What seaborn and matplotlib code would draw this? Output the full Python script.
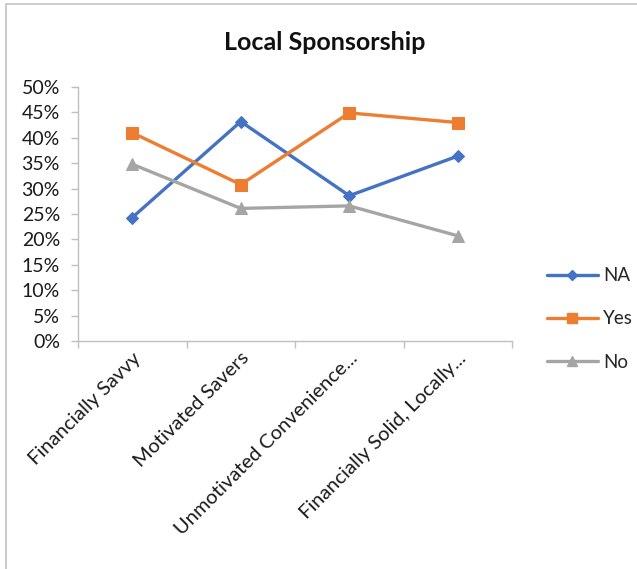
import matplotlib
matplotlib.use("Agg")
import matplotlib.pyplot as plt
import matplotlib.ticker as mticker
from matplotlib.lines import Line2D
import numpy as np
import pandas as pd
import seaborn as sns

categories = ["Financially Savvy", "Motivated Savers",
              "Unmotivated Convenience...", "Financially Solid, Locally..."]
series_names = ["NA", "Yes", "No"]
na_values = [0.243, 0.432, 0.286, 0.364]
yes_values = [0.410, 0.308, 0.449, 0.430]
no_values = [0.348, 0.261, 0.266, 0.207]
y_ticks = [0.0, 0.05, 0.10, 0.15, 0.20, 0.25, 0.30, 0.35, 0.40, 0.45, 0.50]

colors = {"NA": "#4472C4", "Yes": "#ED7D31", "No": "#A5A5A5"}
markers = {"NA": "D", "Yes": "s", "No": "^"}
marker_sizes = {"NA": 6.5, "Yes": 8, "No": 8.5}

rows = []
for name, vals in zip(series_names, [na_values, yes_values, no_values]):
    for i, v in enumerate(vals):
        rows.append({"pos": i, "value": v, "series": name})
df = pd.DataFrame(rows)

sns.set_theme(style="white")
plt.rcParams["font.family"] = ["Lato", "DejaVu Sans"]

W, H = 637, 569
fig = plt.figure(figsize=(W / 100, H / 100), dpi=100)
ax = fig.add_axes([78 / W, 1 - 341 / H, (512 - 78) / W, (341 - 87) / H])

for name in series_names:
    sub = df[df["series"] == name]
    sns.lineplot(data=sub, x="pos", y="value", ax=ax, color=colors[name],
                 marker=markers[name], markersize=marker_sizes[name],
                 markeredgecolor=colors[name], linewidth=2.4, legend=False)

ax.set_xlim(-0.5, len(categories) - 0.5)
ax.set_ylim(0, 0.5)
ax.set_xlabel("")
ax.set_ylabel("")

ax.set_yticks(y_ticks)
ax.yaxis.set_major_formatter(mticker.FuncFormatter(lambda v, p: f"{v * 100:.0f}%"))
ax.set_xticks(range(len(categories)))
ax.set_xticklabels(categories, rotation=45, ha="right", va="top", rotation_mode="anchor")
ax.set_xticks(np.arange(-0.5, len(categories), 1.0), minor=True)
ax.tick_params(axis="x", which="major", length=0, pad=6, labelsize=14.5, labelcolor="#1a1a1a")
ax.tick_params(axis="x", which="minor", length=5, width=1, color="#bfbfbf", direction="out", bottom=True)
ax.tick_params(axis="y", which="major", length=5, width=1, color="#bfbfbf", direction="out",
               left=True, pad=8, labelsize=14, labelcolor="#1a1a1a")

for side in ["top", "right"]:
    ax.spines[side].set_visible(False)
for side in ["left", "bottom"]:
    ax.spines[side].set_color("#bfbfbf")
    ax.spines[side].set_linewidth(1)
ax.grid(False)

fig.text(325 / W, 1 - 42 / H, "Local Sponsorship", ha="center", va="center",
         fontsize=18, fontweight="bold", color="#111111")

handles = [Line2D([0], [0], color=colors[n], marker=markers[n], markersize=marker_sizes[n] - 1,
                  linewidth=2.4) for n in series_names]
fig.legend(handles, series_names, loc="center left", bbox_to_anchor=(530 / W, 1 - 319 / H),
           frameon=False, fontsize=13.5, handlelength=2.7, labelspacing=1.4, handletextpad=0.3)

# outer chart border
fig.add_artist(plt.Rectangle((5.5 / W, -0.1), 1.2, 1 - 4.5 / H + 0.1, transform=fig.transFigure,
                             fill=False, edgecolor="#c8c8c8", linewidth=1.3))

fig.savefig("out.png", dpi=100, facecolor="white")
